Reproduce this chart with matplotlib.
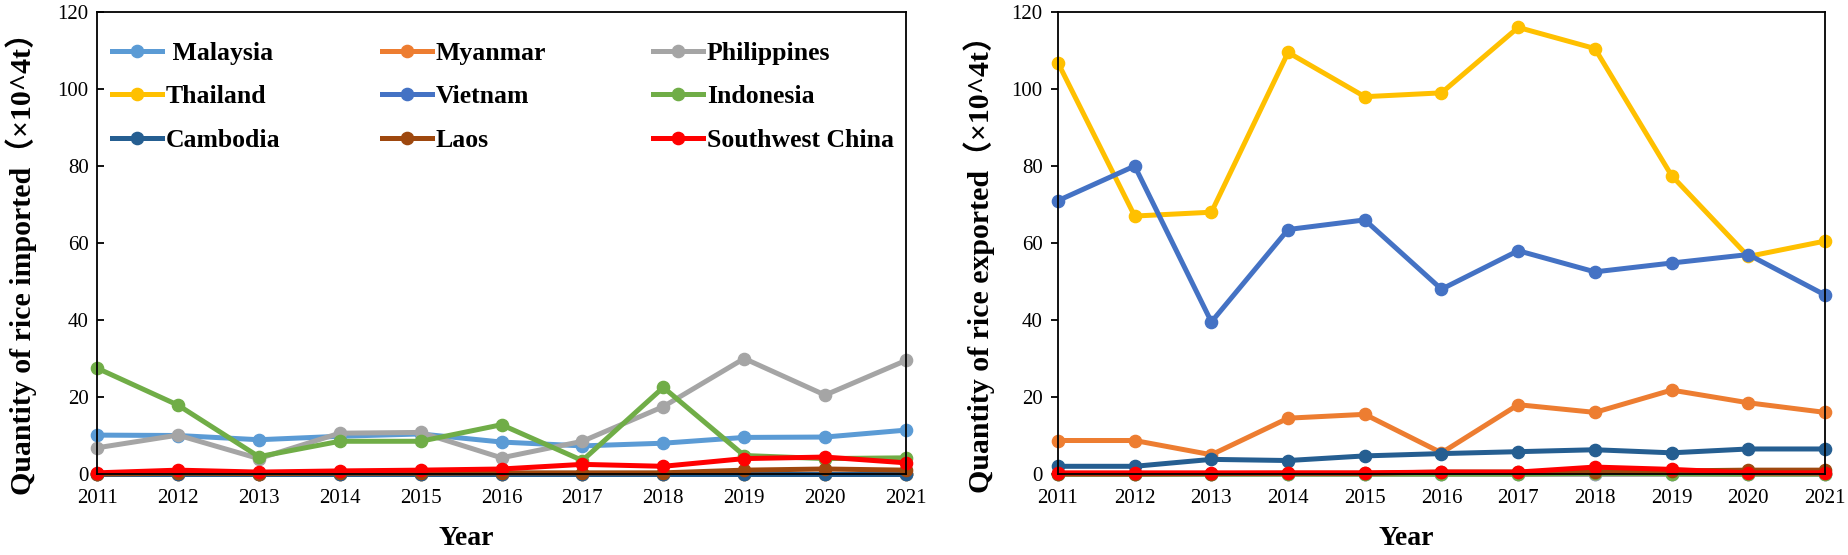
import matplotlib
matplotlib.use("Agg")
import matplotlib.pyplot as plt

years = list(range(2011, 2022))
countries = ["Malaysia", "Myanmar", "Philippines", "Thailand", "Vietnam",
             "Indonesia", "Cambodia", "Laos", "Southwest China"]
legend_labels = [" Malaysia", "Myanmar", "Philippines", "Thailand", "Vietnam",
                 "Indonesia", "Cambodia", "Laos", "Southwest China"]
colors = ["#5B9BD5", "#ED7D31", "#A5A5A5", "#FFC000", "#4472C4",
          "#70AD47", "#255E91", "#9E480E", "#FF0000"]

# Imports (x10^4 t)
imp_malaysia    = [10.1, 10.0, 8.9, 9.8, 10.4, 8.3, 7.3, 8.0, 9.5, 9.6, 11.4]
imp_myanmar     = [0.0, 0.0, 0.0, 0.0, 0.0, 0.0, 0.0, 0.0, 0.0, 0.0, 0.0]
imp_philippines = [6.8, 10.1, 4.0, 10.6, 10.8, 4.2, 8.5, 17.5, 30.0, 20.5, 29.5]
imp_thailand    = [0.0, 0.0, 0.0, 0.0, 0.0, 0.0, 0.0, 0.0, 0.0, 0.0, 0.0]
imp_vietnam     = [0.0, 0.0, 0.0, 0.0, 0.0, 0.0, 0.0, 0.0, 0.0, 0.0, 0.0]
imp_indonesia   = [27.5, 17.9, 4.5, 8.5, 8.5, 12.8, 3.5, 22.5, 4.8, 4.0, 4.2]
imp_cambodia    = [0.0, 0.0, 0.0, 0.0, 0.0, 0.0, 0.0, 0.0, 0.0, 0.0, 0.0]
imp_laos        = [0.0, 0.2, 0.1, 0.2, 0.2, 0.3, 0.3, 0.3, 1.0, 1.3, 1.0]
imp_swchina     = [0.3, 1.0, 0.5, 0.8, 1.0, 1.3, 2.5, 2.0, 4.0, 4.4, 2.9]

# Exports (x10^4 t)
exp_malaysia    = [0.0, 0.0, 0.0, 0.0, 0.0, 0.0, 0.0, 0.0, 0.0, 0.0, 0.0]
exp_myanmar     = [8.7, 8.7, 5.0, 14.5, 15.5, 5.5, 18.0, 16.0, 21.8, 18.5, 16.0]
exp_philippines = [0.0, 0.0, 0.0, 0.0, 0.0, 0.0, 0.0, 0.0, 0.0, 0.0, 0.0]
exp_thailand    = [106.8, 67.0, 68.0, 109.5, 98.0, 99.0, 116.0, 110.5, 77.5, 56.5, 60.5]
exp_vietnam     = [71.0, 80.0, 39.5, 63.5, 66.0, 48.0, 58.0, 52.5, 54.8, 57.0, 46.5]
exp_indonesia   = [0.0, 0.0, 0.0, 0.0, 0.0, 0.0, 0.0, 0.2, 0.1, 0.0, 0.0]
exp_cambodia    = [2.0, 2.0, 3.8, 3.5, 4.7, 5.3, 5.8, 6.3, 5.5, 6.5, 6.5]
exp_laos        = [0.0, 0.0, 0.1, 0.2, 0.2, 0.5, 0.5, 0.6, 0.8, 1.0, 1.0]
exp_swchina     = [0.3, 0.3, 0.3, 0.3, 0.3, 0.5, 0.5, 1.8, 1.2, 0.3, 0.3]

imports = [imp_malaysia, imp_myanmar, imp_philippines, imp_thailand, imp_vietnam,
           imp_indonesia, imp_cambodia, imp_laos, imp_swchina]
exports = [exp_malaysia, exp_myanmar, exp_philippines, exp_thailand, exp_vietnam,
           exp_indonesia, exp_cambodia, exp_laos, exp_swchina]

serif = ["Liberation Serif", "Noto Sans CJK SC", "DejaVu Serif"]
plt.rcParams["font.family"] = serif

W, H = 1849, 555
fig = plt.figure(figsize=(W / 100, H / 100), dpi=100)
ax1 = fig.add_axes([97 / W, (H - 474) / H, 809 / W, 462 / H])
ax2 = fig.add_axes([1058 / W, (H - 474) / H, 767 / W, 462 / H])

def draw(ax, data, ylabel, ydir, ylab_x, xlab_x):
    handles = []
    for name, col, vals in zip(countries, colors, data):
        h, = ax.plot(years, vals, color=col, lw=3.6, marker="o", ms=8.8,
                     label=name, clip_on=False, solid_joinstyle="round")
        handles.append(h)
    ax.set_xlim(2011, 2021)
    ax.set_ylim(0, 120)
    ax.set_xticks(years)
    ax.set_yticks(range(0, 121, 20))
    ax.tick_params(axis="y", direction=ydir, length=5, width=1.3, labelsize=15, pad=6)
    ax.tick_params(axis="x", length=0, labelsize=15, pad=11)
    for s in ax.spines.values():
        s.set_linewidth(1.3)
        s.set_color("black")
    ax.set_xlabel("Year", fontsize=20, fontweight="bold")
    ax.xaxis.set_label_coords(xlab_x, -0.112)
    ax.set_ylabel(ylabel, fontsize=21.5, fontweight="bold", family=serif)
    ax.yaxis.set_label_coords(ylab_x, 0.47)
    return handles

h = draw(ax1, imports, "Quantity of rice imported（×10^4t）", "in",
         (37 - 97) / 809, (466 - 97) / 809)
draw(ax2, exports, "Quantity of rice exported（×10^4t）", "out",
     (995 - 1058) / 767, (1406 - 1058) / 767)

# three legend columns, filled row-wise like the original
col_x = [(112 - 97) / 809, (382 - 97) / 809, (653 - 97) / 809]
for c in range(3):
    idx = [c, c + 3, c + 6]
    leg = ax1.legend([h[i] for i in idx], [legend_labels[i] for i in idx],
                     loc="upper left", bbox_to_anchor=(col_x[c], 0.936),
                     frameon=False, borderpad=0, borderaxespad=0,
                     prop={"family": serif, "weight": "bold", "size": 18.5},
                     handlelength=1.95, handletextpad=0.15, labelspacing=0.8)
    if c < 2:
        ax1.add_artist(leg)

fig.savefig("out.png", dpi=100)
